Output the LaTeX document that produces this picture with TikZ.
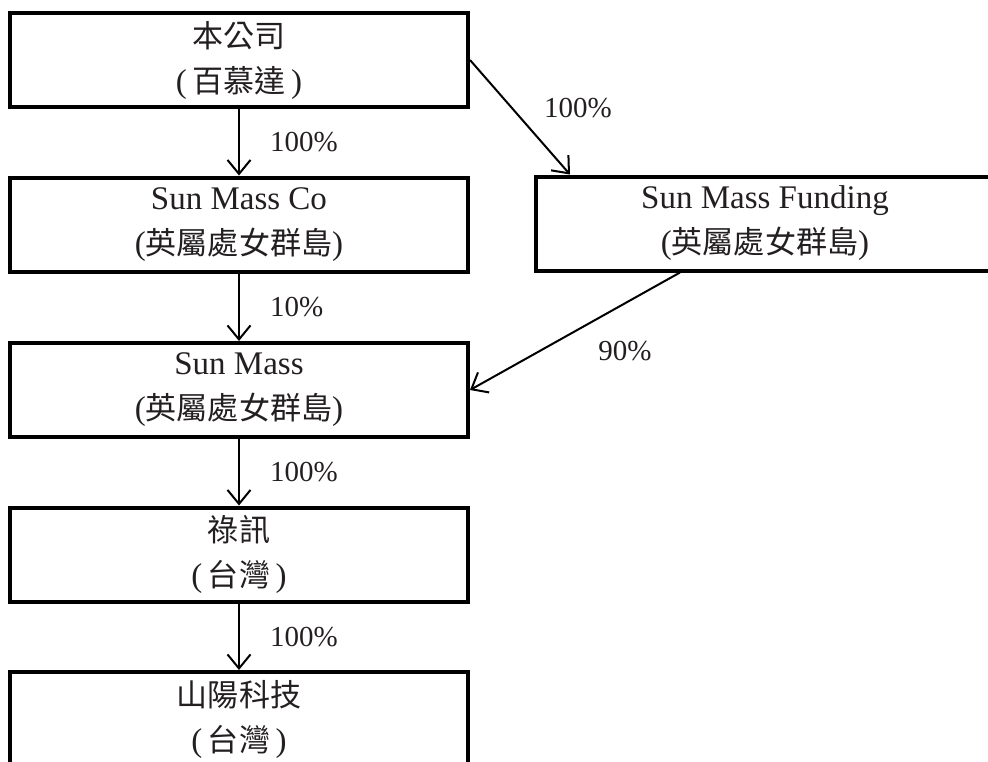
\documentclass[tikz,border=0pt]{standalone}
\usepackage{fontspec}
\setmainfont{Liberation Serif}
\newfontfamily\hanzi[Scale=0.94]{Noto Sans CJK TC}
\usetikzlibrary{arrows.meta,positioning}
\definecolor{ink}{RGB}{35,31,32}

\begin{document}
\begin{tikzpicture}[x=1pt,y=-1pt,
  firm/.style={draw=black, line width=4pt, minimum width=458pt, minimum height=94pt,
    inner sep=0pt, align=center, text=ink, font=\fontsize{33}{45}\selectfont,
    execute at begin node={\rule{0pt}{33pt}}},
  own/.style={line width=2pt, -{Straight Barb[length=14pt,width=23pt]}},
  pct/.style={inner sep=0pt, text=ink, font=\fontsize{29}{34}\selectfont}]
\useasboundingbox (0,0) rectangle (988,761);
\clip (0,0) rectangle (988,761);
\node[firm] (1) at (239,60) {{\hanzi 本公司}\\(\,{\hanzi 百慕達}\,)};
\node[firm] (2) at (239,224.5) {Sun Mass Co\\({\hanzi 英屬處女群島})};
\node[firm] (3) at (765,223.5) {Sun Mass Funding\\({\hanzi 英屬處女群島})};
\node[firm] (4) at (239,390) {Sun Mass\\({\hanzi 英屬處女群島})};
\node[firm] (5) at (239,554.5) {{\hanzi 祿訊}\\(\,{\hanzi 台灣}\,)};
\node[firm] (6) at (239,719) {{\hanzi 山陽科技}\\(\,{\hanzi 台灣}\,)};
\path[draw,own] (1) -- node[pct,right=30pt] {100\%} (2);
\path[draw,own] (2) -- node[pct,right=30pt] {10\%} (4);
\path[draw,own] (4) -- node[pct,right=30pt] {100\%} (5);
\path[draw,own] (5) -- node[pct,right=30pt] {100\%} (6);
\path[draw,own] (1.east) -- node[pct,pos=0.42,right=31pt] {100\%} ([xshift=36pt]3.north west);
\path[draw,own] ([xshift=-85pt]3.south) -- node[pct,pos=0.67,right=58pt] {90\%} (4.east);
\end{tikzpicture}
\end{document}
